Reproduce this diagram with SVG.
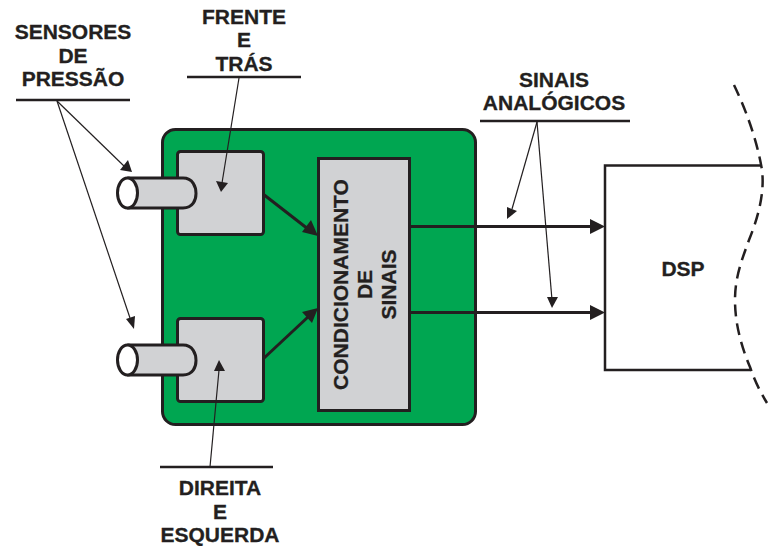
<svg xmlns="http://www.w3.org/2000/svg" width="769" height="546" viewBox="0 0 769 546">
<defs>
<style>
text{font-family:"Liberation Sans",Arial,sans-serif;font-weight:700;font-size:21px;fill:#231f20;stroke:#231f20;stroke-width:.3;text-anchor:middle}
.s{fill:#d1d2d4;stroke:#231f20;stroke-width:3;stroke-linejoin:round}
.thin{fill:none;stroke:#231f20;stroke-width:1.2}
.thick{fill:none;stroke:#231f20;stroke-width:3}
.rule{stroke:#231f20;stroke-width:2.5;fill:none}
.h{fill:#231f20;stroke:none}
</style>
</defs>
<g id="board"><rect x="162.500" y="129.500" width="313" height="295" rx="13" fill="#00a651" stroke="#231f20" stroke-width="3"/></g>
<g id="sensor-top">
<rect class="s" x="177.500" y="151.500" width="86" height="83" rx="3"/>
<path class="s" d="M128 178H183C193 178 196 187 196 193.500C196 200 193 208 183 208H128Z"/>
<ellipse cx="127.500" cy="193" rx="10" ry="15" fill="#fff" stroke="#231f20" stroke-width="3"/>
</g>
<g id="sensor-bottom">
<rect class="s" x="177.500" y="318.500" width="86" height="83" rx="3"/>
<path class="s" d="M128 345H183C193 345 196 354 196 360.500C196 367 193 375 183 375H128Z"/>
<ellipse cx="127.500" cy="360" rx="10" ry="15" fill="#fff" stroke="#231f20" stroke-width="3"/>
</g>
<g id="conditioner">
<rect class="s" x="318.500" y="158.500" width="91" height="252" style="stroke-linejoin:miter"/>
<text transform="translate(348,284.500) rotate(-90)">CONDICIONAMENTO</text>
<text transform="translate(372,284.500) rotate(-90)">DE</text>
<text transform="translate(396,284.500) rotate(-90)">SINAIS</text>
</g>
<g id="dsp">
<path d="M762 165.500H605V370H750" fill="none" stroke="#231f20" stroke-width="2.500"/>
<path d="M734 85C746 110 757 140 762 170C765 195 757 220 749 240C741 262 735 278 735 300C735 325 742 348 750 367C755 382 761 393 767 403" fill="none" stroke="#231f20" stroke-width="2.500" stroke-dasharray="12 7"/>
<text x="683" y="276">DSP</text>
</g>
<g id="label-sensores">
<text x="73" y="39">SENSORES</text><text x="73" y="63">DE</text><text x="73" y="86">PRESSÃO</text>
<path class="rule" d="M16 100H130"/>
</g>
<g id="label-frente">
<text x="244" y="24">FRENTE</text><text x="244" y="47">E</text><text x="244" y="71">TRÁS</text>
<path class="rule" d="M187 77H301"/>
</g>
<g id="label-sinais">
<text x="554" y="87">SINAIS</text><text x="554" y="110">ANALÓGICOS</text>
<path class="rule" d="M480 121H630"/>
</g>
<g id="label-direita">
<text x="220" y="495">DIREITA</text><text x="220" y="519">E</text><text x="220" y="542">ESQUERDA</text>
<path class="rule" d="M160 467H273"/>
</g>
<g id="connectors">
<path class="thin" d="M57 101L125 167"/><path class="h" d="M132 172L120 170L128 160Z"/>
<path class="thin" d="M57 101L130 318"/><path class="h" d="M134 329L126 319L135 316Z"/>
<path class="thin" d="M239 78L222 183"/><path class="h" d="M221 192L216 181L228 183Z"/>
<path class="thin" d="M210 467L219 370"/><path class="h" d="M219 360L225 371L214 371Z"/>
<path class="thin" d="M537 122L512 209"/><path class="h" d="M507 219L507 207L517 211Z"/>
<path class="thin" d="M537 122L552 300"/><path class="h" d="M552 308L547 297L558 297Z"/>
<path class="thick" d="M263 194L308 229"/><path class="h" d="M318 236L302 232L311 220Z"/>
<path class="thick" d="M263 359L308 317"/><path class="h" d="M318 308L312 323L302 312Z"/>
<path class="thick" d="M410 226.500H592"/><path class="h" d="M605 226.500L590 219V234Z"/>
<path class="thick" d="M410 312.500H592"/><path class="h" d="M605 312.500L590 305V320Z"/>
</g>
</svg>
